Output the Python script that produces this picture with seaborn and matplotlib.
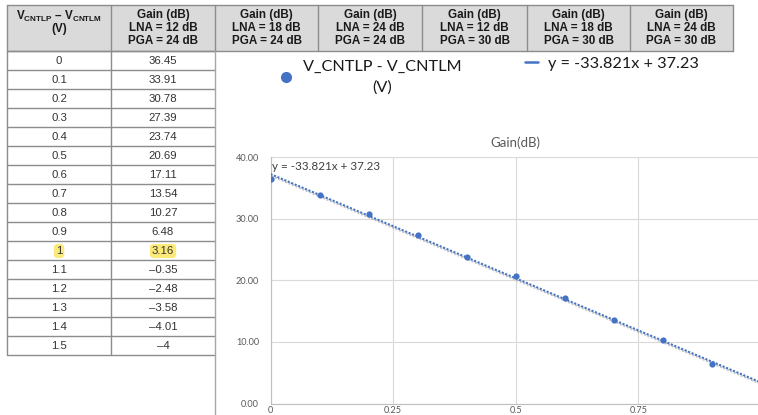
import numpy as np
import pandas as pd
import matplotlib
matplotlib.use("Agg")
import matplotlib.pyplot as plt
import seaborn as sns
from matplotlib.patches import Rectangle
from matplotlib.lines import Line2D
import matplotlib.patheffects as pe

# ---------------- data ----------------
v_diff = [0, 0.1, 0.2, 0.3, 0.4, 0.5, 0.6, 0.7, 0.8, 0.9, 1, 1.1, 1.2, 1.3, 1.4, 1.5]
gain_db = [36.45, 33.91, 30.78, 27.39, 23.74, 20.69, 17.11, 13.54, 10.27, 6.48,
           3.16, -0.35, -2.48, -3.58, -4.01, -4]
chart_rows = 11            # rows used in the chart (0 ... 1 V)
highlight_row = 10         # row highlighted in yellow
header_lna = [12, 18, 24, 12, 18, 24]
header_pga = [24, 24, 24, 30, 30, 30]
y_ticks = [0, 10, 20, 30, 40]
x_ticks = [0, 0.25, 0.5, 0.75]
chart_title = "Gain(dB)"
series_label = "V_CNTLP - V_CNTLM\n(V)"
trend_label = "y = -33.821x + 37.23"

# ---------------- style ----------------
sns.set_theme(style="white")
plt.rcParams["font.family"] = ["Liberation Sans", "DejaVu Sans"]
plt.rcParams["mathtext.fontset"] = "custom"
plt.rcParams["mathtext.bf"] = "Liberation Sans:bold"
plt.rcParams["mathtext.rm"] = "Liberation Sans"

W, H = 758, 415
fig = plt.figure(figsize=(W / 100, H / 100), dpi=100)
fig.patch.set_facecolor("white")

bg = fig.add_axes([0, 0, 1, 1])
bg.set_xlim(0, W)
bg.set_ylim(H, 0)
bg.axis("off")

# ---------------- table ----------------
col_edges = [7, 111, 215, 318, 422, 527, 630, 733]
head_top, head_bot = 5, 51
row_h = 19.0
n_rows = len(v_diff)
body_bot = head_bot + n_rows * row_h
grid_c = "#8c8c8c"

bg.add_patch(Rectangle((col_edges[0], head_top), col_edges[-1] - col_edges[0],
                       head_bot - head_top, facecolor="#dadada", edgecolor="none"))
bg.plot([col_edges[0], col_edges[-1]], [head_top, head_top], color=grid_c, lw=1)
bg.plot([col_edges[0], col_edges[-1]], [head_bot, head_bot], color=grid_c, lw=1)
for xe in col_edges:
    bg.plot([xe, xe], [head_top, head_bot], color=grid_c, lw=1)

# header texts
bg.text((col_edges[0] + col_edges[1]) / 2, 16.5,
        r"$\mathbf{V_{CNTLP}}$ – $\mathbf{V_{CNTLM}}$",
        ha="center", va="center", fontsize=8.4, fontweight="bold", color="#1a1a1a")
bg.text((col_edges[0] + col_edges[1]) / 2, 29, "(V)",
        ha="center", va="center", fontsize=8.4, fontweight="bold", color="#1a1a1a")
for i, (lna, pga) in enumerate(zip(header_lna, header_pga)):
    cx = (col_edges[i + 1] + col_edges[i + 2]) / 2
    for ly, txt in zip([15, 28, 41], ["Gain (dB)", f"LNA = {lna} dB", f"PGA = {pga} dB"]):
        bg.text(cx, ly, txt, ha="center", va="center", fontsize=8.4,
                fontweight="bold", color="#1a1a1a")

# body rows
for i in range(n_rows + 1):
    yy = head_bot + i * row_h
    bg.plot([col_edges[0], col_edges[2]], [yy, yy], color=grid_c, lw=1)
for xe in col_edges[:2]:
    bg.plot([xe, xe], [head_bot, body_bot], color=grid_c, lw=1)
bg.plot([col_edges[2], col_edges[2]], [head_bot, H], color="#a6a6a6", lw=1)


def fmt(v):
    return ("%g" % v).replace("-", "\u2013")


for i, (v, g) in enumerate(zip(v_diff, gain_db)):
    cy = head_bot + (i + 0.5) * row_h + 0.5
    for cx, val in zip([(col_edges[0] + col_edges[1]) / 2, (col_edges[1] + col_edges[2]) / 2],
                       [v, g]):
        kw = {}
        if i == highlight_row:
            kw["bbox"] = dict(boxstyle="round,pad=0.18,rounding_size=0.35",
                              facecolor="#fbe97a", edgecolor="none")
        bg.text(cx, cy, fmt(val), ha="center", va="center", fontsize=8.2,
                color="#333333", **kw)

# ---------------- chart ----------------
x0_px, y0_px = 270.5, 403.5
px_x = 490.4          # pixels per volt
px_y = 6.1625         # pixels per dB
ymax = 40
ax = fig.add_axes([x0_px / W, (H - y0_px) / H, px_x * 1.0 / W, px_y * ymax / H])
ax.set_facecolor("none")

chart_df = pd.DataFrame({"v": v_diff[:chart_rows], "gain": gain_db[:chart_rows]})
ax.set_xlim(0, 1.0)
ax.set_ylim(0, ymax)

shadow = [pe.SimpleLineShadow(offset=(0.6, -1.3), shadow_color="#7f7f7f", alpha=0.45),
          pe.Normal()]
sns.regplot(data=chart_df, x="v", y="gain", ax=ax, scatter=False, ci=None,
            truncate=False,
            line_kws=dict(color="#4472c4", lw=1.5, linestyle=(0, (1, 0.8)),
                          path_effects=shadow, zorder=3))
sns.scatterplot(data=chart_df, x="v", y="gain", ax=ax, color="#4472c4", s=20,
                linewidth=0, zorder=4, legend=False)

ax.set_xlim(0, 1.0)
ax.set_ylim(0, ymax)
ax.set_xticks(x_ticks)
ax.set_xticklabels(["%g" % t for t in x_ticks])
ax.set_yticks(y_ticks)
ax.set_yticklabels(["%.2f" % t for t in y_ticks])
ax.set_xlabel("")
ax.set_ylabel("")
ax.grid(True, color="#d9d9d9", lw=0.8)
ax.set_axisbelow(True)
for s in ["top", "right"]:
    ax.spines[s].set_visible(False)
for s in ["left", "bottom"]:
    ax.spines[s].set_color("#bfbfbf")
    ax.spines[s].set_linewidth(0.8)
ax.tick_params(axis="both", length=0, labelsize=6.6, labelcolor="#595959")
ax.tick_params(axis="y", pad=8.3)
ax.tick_params(axis="x", pad=1.6)
for lab in ax.get_xticklabels() + ax.get_yticklabels():
    lab.set_fontfamily(["Lato", "DejaVu Sans"])

ax.set_title(chart_title, fontsize=9.5, color="#595959", pad=7,
             fontfamily=["Lato", "DejaVu Sans"])
ax.text(0.003, 38.4, trend_label, ha="left", va="center", fontsize=8.4,
        color="#404040", fontfamily=["Lato", "DejaVu Sans"], zorder=5)

# ---------------- legends ----------------
leg_size = 11.7
h1 = Line2D([], [], marker="o", linestyle="none", color="#4472c4", markersize=7)
leg1 = fig.legend([h1], [series_label], loc="center left",
                  bbox_to_anchor=(277.6 / W, 1 - 77 / H), frameon=False,
                  borderpad=0, borderaxespad=0, handlelength=1.0, handletextpad=0.55,
                  prop=dict(family=["Lato", "DejaVu Sans"], size=leg_size))
for t in leg1.get_texts():
    t.set_multialignment("center")
    t.set_linespacing(1.6)
    t.set_color("#1a1a1a")

h2 = Line2D([], [], color="#4472c4", lw=1.8)
leg2 = fig.legend([h2], [trend_label], loc="center left",
                  bbox_to_anchor=(525 / W, 1 - 64 / H), frameon=False,
                  borderpad=0, borderaxespad=0, handlelength=0.8, handletextpad=0.62,
                  prop=dict(family=["Lato", "DejaVu Sans"], size=leg_size))
for t in leg2.get_texts():
    t.set_color("#1a1a1a")

fig.savefig("out.png", dpi=100, facecolor="white")
